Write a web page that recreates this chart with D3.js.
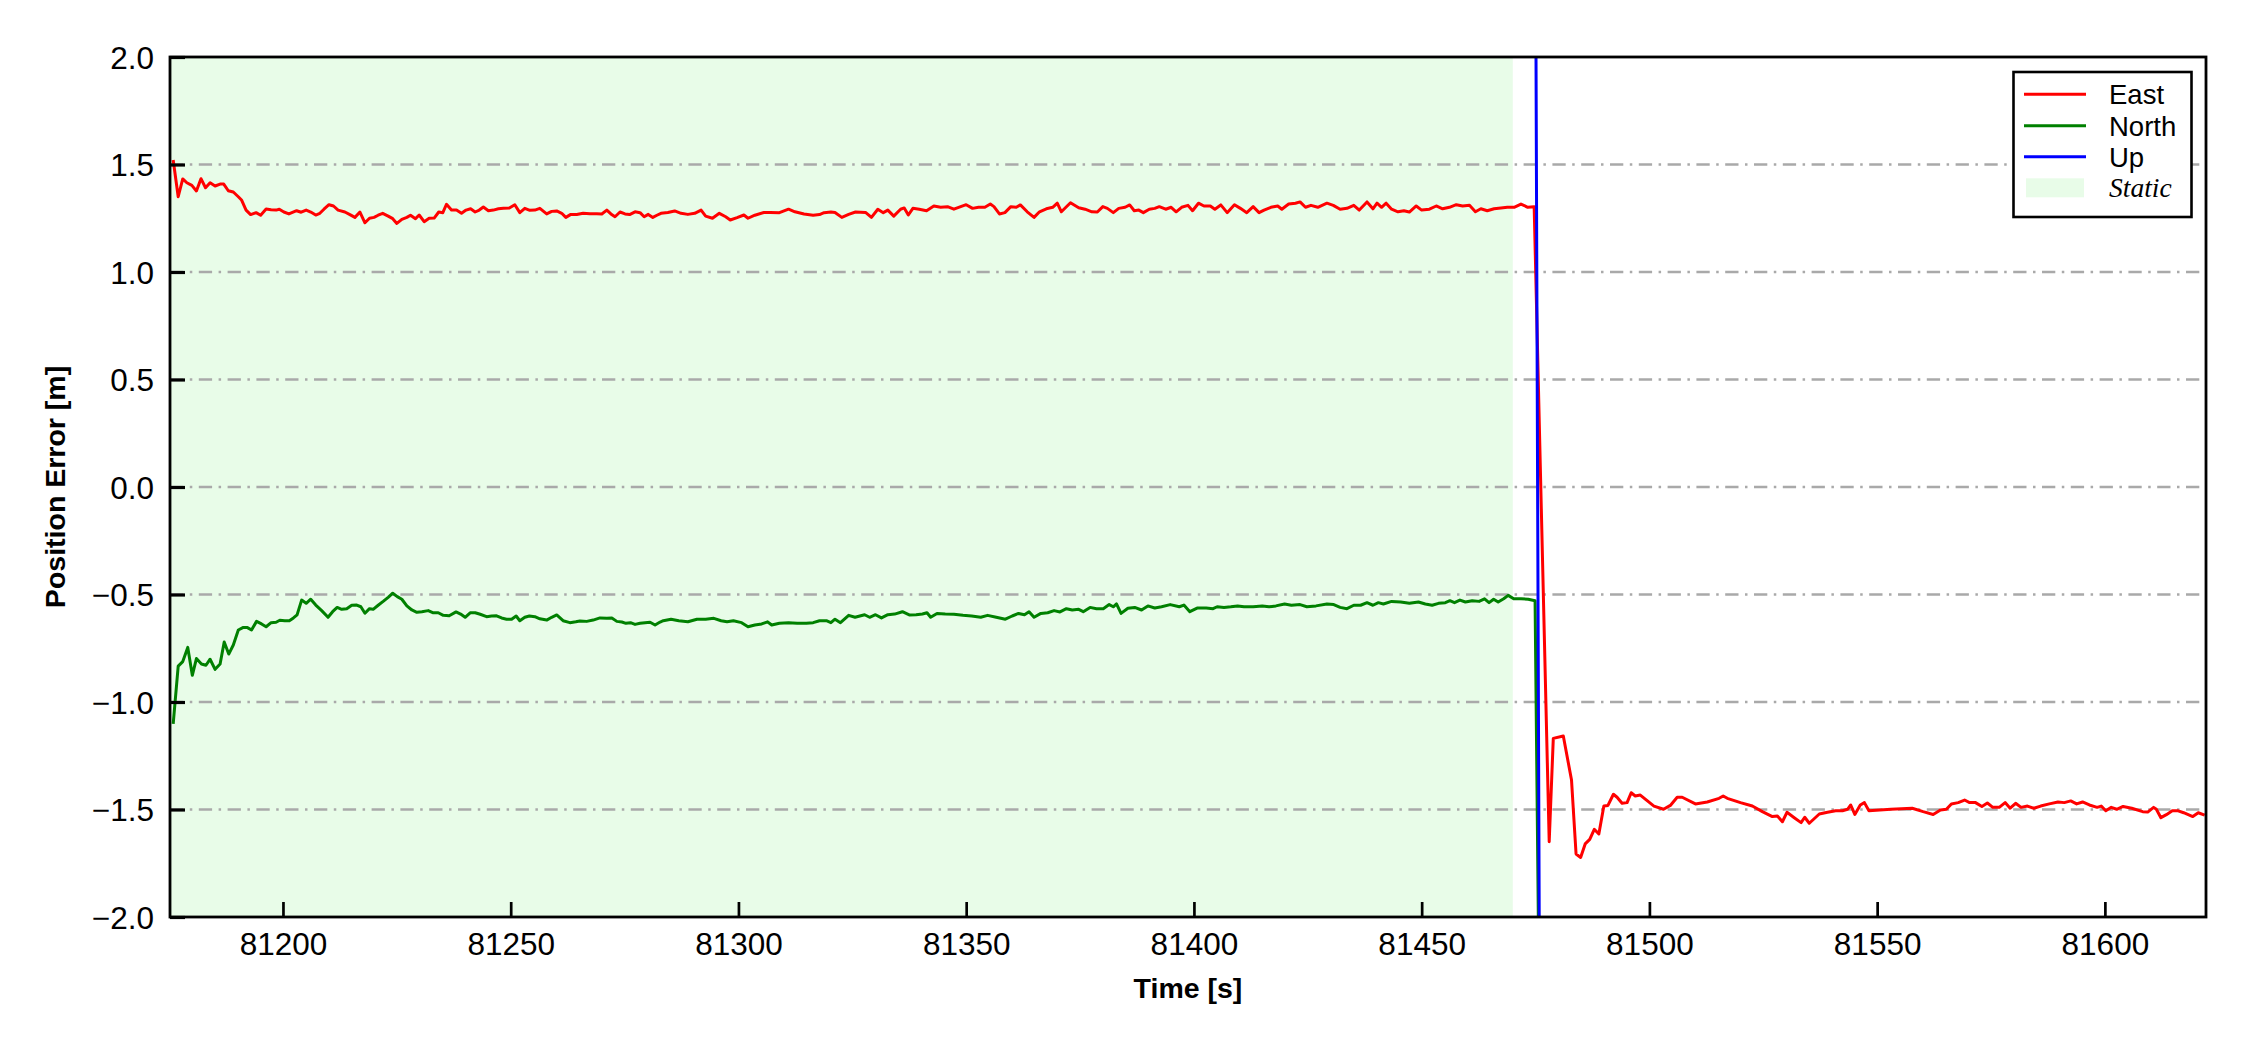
<!DOCTYPE html>
<html>
<head>
<meta charset="utf-8">
<script src="https://cdn.jsdelivr.net/npm/d3@7"></script>
<style>
  html, body { margin: 0; padding: 0; background: #ffffff; }
  svg { display: block; }
</style>
</head>
<body>
<svg id="chart" width="2250" height="1050"></svg>
<script>
// ---------------- data ----------------
const xTicks = [81200, 81250, 81300, 81350, 81400, 81450, 81500, 81550, 81600];
const yTicks = [-2.0, -1.5, -1.0, -0.5, 0.0, 0.5, 1.0, 1.5, 2.0];
const xDomain = [81175.2, 81622.2];
const yDomain = [-2, 2];
const staticSpan = [81175.2, 81470];
const seriesNames = ["East", "North", "Up"];
const seriesColors = ["#ff0000", "#008000", "#0000ff"];
const staticLabel = "Static";
const xTitle = "Time [s]";
const yTitle = "Position Error [m]";

const eastT = [
81175.9,81177.0,81178.0,81178.9,81180.0,81181.0,81182.0,81183.0,81184.0,81185.1,81186.2,81187.0,81188.0,81189.1,81190.2,81190.9,
81191.9,81192.9,81194.1,81195.1,81196.3,81197.4,81198.5,81199.2,81200.2,81201.3,81203.0,81204.0,81205.1,81206.1,81207.2,81208.1,
81209.0,81210.1,81211.1,81212.1,81213.6,81214.7,81215.8,81216.9,81218.0,81219.0,81220.0,81220.9,81221.9,81223.1,81224.1,81225.0,
81226.1,81227.2,81228.0,81229.1,81229.9,81231.0,81232.1,81233.2,81234.2,81235.1,81235.9,81237.0,81238.1,81239.2,81240.2,81241.2,
81242.2,81243.1,81244.0,81245.1,81246.2,81247.3,81248.4,81249.7,81250.9,81252.0,81253.1,81254.2,81255.3,81256.4,81257.9,81259.0,
81260.1,81261.2,81262.1,81263.2,81264.5,81265.9,81267.4,81268.9,81270.0,81271.1,81272.0,81272.9,81274.0,81275.1,81276.1,81277.3,
81278.4,81279.3,81280.2,81281.2,81282.1,
81283.0,81284.5,81286.0,81287.4,81288.9,81290.4,81291.8,81292.8,81294.3,81295.8,81297.2,81298.2,81299.7,81301.2,81302.1,81303.6,
81305.6,81307.0,81309.0,81311.0,81312.4,81314.4,81316.4,81317.8,81318.8,81320.3,81321.2,81322.7,81324.2,81325.7,
81327.9,81329.2,81330.6,81331.8,81332.8,81334.1,81335.6,81336.4,81337.3,81338.3,81339.7,81341.3,81342.9,81344.4,81345.9,81347.3,
81348.8,81350.0,81351.4,81352.7,81354.1,81355.3,81356.1,81357.3,81358.5,81359.8,81361.0,81361.9,81363.4,81364.9,81366.1,81367.6,
81369.0,81370.0,81370.9,81372.9,81374.7,81376.1,81377.6,81378.8,81380.0,81381.0,81382.3,81383.5,81384.9,81385.9,81386.9,81387.9,
81388.9,81390.2,81391.4,81392.4,81393.8,81395.0,81396.1,81397.3,81398.7,81399.7,81401.0,81402.2,81403.6,81404.6,81405.9,81407.3,
81408.9,81410.2,81411.6,81413.0,81414.3,81415.4,81416.9,81418.4,81419.3,81420.8,81422.3,81423.3,81424.5,81425.7,81427.2,81429.2,
81430.6,81432.1,81433.6,81435.1,81436.3,81438.0,81439.3,81440.2,81441.2,81442.2,81443.4,81444.8,81446.1,81447.3,81448.8,81450.0,
81451.7,81453.2,81454.6,81456.1,81457.6,81459.0,81460.5,81461.8,81463.0,81464.4,81465.9,81467.4,81468.8,81470.3,81471.8,81473.3,
81474.7,
81478.0,81478.9,81481.1,81482.9,81483.9,81484.9,81485.9,81486.9,81487.9,81488.9,81490.0,81490.9,81492.1,81492.9,81494.0,81495.1,
81496.0,81496.9,81498.0,81499.5,81501.0,81503.1,81504.6,81506.1,81507.2,81510.1,81512.7,81515.3,81516.2,81517.1,81520.0,81522.6,
81524.8,81527.0,81528.1,81529.2,81530.2,81531.8,81533.3,81534.1,81535.1,81537.3,81539.1,81540.9,81542.4,81543.5,81544.2,81545.1,
81546.3,81547.2,81548.2,81553.0,81557.7,81560.1,81562.3,81563.9,81565.2,81566.3,81567.8,81569.2,81570.3,81571.6,81573.0,81574.2,
81575.4,81576.8,81578.1,81579.2,81580.4,81581.6,81583.0,81584.4,81585.9,81587.8,81589.7,81591.1,81592.5,81593.8,81595.1,81596.6,
81598.3,81599.2,81600.2,81601.4,81602.6,81604.0,81605.9,81608.3,81609.4,81610.7,81611.3,81612.3,81613.5,81614.8,81616.1,81617.3,
81619.3,81620.5,81621.9
];
const eastV = [
1.521,1.350,1.433,1.415,1.403,1.377,1.434,1.392,1.415,1.400,1.409,1.409,1.378,1.372,1.350,1.335,
1.288,1.267,1.276,1.264,1.293,1.290,1.288,1.292,1.279,1.270,1.285,1.278,1.288,1.279,1.265,1.273,
1.292,1.313,1.307,1.288,1.279,1.267,1.254,1.279,1.229,1.250,1.254,1.264,1.273,1.260,1.248,1.226,
1.245,1.254,1.264,1.248,1.265,1.234,1.250,1.251,1.279,1.276,1.315,1.288,1.288,1.273,1.288,1.294,
1.279,1.288,1.302,1.285,1.288,1.294,1.296,1.298,1.313,1.276,1.296,1.287,1.288,1.296,1.270,1.282,
1.284,1.273,1.254,1.268,1.267,1.273,1.271,1.271,1.270,1.288,1.270,1.257,1.279,1.270,1.267,1.280,
1.276,1.257,1.268,1.254,1.264,
1.273,1.277,1.284,1.273,1.268,1.273,1.288,1.260,1.250,1.273,1.257,1.242,1.253,1.265,1.250,1.264,
1.277,1.277,1.276,1.292,1.280,1.270,1.264,1.267,1.276,1.279,1.277,1.254,1.268,1.279,
1.277,1.254,1.292,1.276,1.288,1.260,1.292,1.298,1.265,1.296,1.292,1.285,1.307,1.301,1.304,1.292,
1.304,1.313,1.296,1.301,1.301,1.316,1.304,1.270,1.276,1.304,1.301,1.312,1.280,1.254,1.280,1.294,
1.301,1.320,1.280,1.322,1.299,1.292,1.280,1.279,1.304,1.296,1.276,1.296,1.301,1.312,1.285,1.288,
1.276,1.292,1.296,1.304,1.292,1.301,1.280,1.301,1.310,1.285,1.320,1.307,1.307,1.292,1.312,1.276,
1.313,1.296,1.276,1.304,1.276,1.288,1.301,1.307,1.292,1.316,1.320,1.326,1.301,1.310,1.301,1.320,
1.310,1.292,1.296,1.310,1.288,1.326,1.294,1.320,1.301,1.320,1.292,1.280,1.285,1.279,1.307,1.288,
1.292,1.307,1.294,1.301,1.313,1.307,1.310,1.280,1.294,1.285,1.294,1.298,1.301,1.301,1.316,1.301,
1.304,
-1.650,-1.169,-1.158,-1.363,-1.707,-1.723,-1.660,-1.639,-1.592,-1.614,-1.484,-1.481,-1.429,-1.443,-1.471,-1.468,
-1.422,-1.437,-1.433,-1.459,-1.484,-1.499,-1.481,-1.443,-1.443,-1.474,-1.465,-1.448,-1.437,-1.448,-1.468,-1.484,
-1.510,-1.533,-1.530,-1.557,-1.513,-1.538,-1.561,-1.536,-1.564,-1.521,-1.513,-1.506,-1.506,-1.499,-1.479,-1.523,
-1.479,-1.468,-1.506,-1.499,-1.494,-1.510,-1.523,-1.502,-1.499,-1.474,-1.468,-1.456,-1.468,-1.468,-1.486,-1.470,
-1.490,-1.490,-1.468,-1.494,-1.471,-1.490,-1.484,-1.494,-1.484,-1.474,-1.465,-1.468,-1.460,-1.474,-1.465,-1.479,
-1.490,-1.484,-1.506,-1.490,-1.499,-1.486,-1.494,-1.510,-1.512,-1.490,-1.499,-1.538,-1.524,-1.506,-1.506,-1.515,
-1.533,-1.515,-1.526
];

const northT = [
81175.9,81177.0,81178.0,81179.1,81180.1,81181.0,81182.1,81183.1,81184.0,81185.1,81186.2,81187.1,81188.1,81189.1,81190.2,81191.3,
81192.2,81193.1,81194.2,81195.3,81196.3,81197.4,81198.5,81199.3,81200.4,81201.4,81202.3,81203.1,81204.1,81205.1,81206.1,81207.2,
81208.5,81209.9,81210.9,81211.9,81212.9,81214.0,81215.1,81216.2,81217.1,81218.0,81219.0,81219.8,81220.9,81222.0,81223.1,81224.1,
81225.1,81226.1,81227.2,81228.3,81229.4,81230.5,81231.9,81233.0,81234.1,81235.2,81236.5,81238.0,81239.0,81240.0,81241.1,81242.2,
81243.3,81244.7,81245.8,81246.9,81248.0,81249.1,81250.2,81251.2,81252.0,81253.1,81254.1,81255.3,81256.4,81257.9,81259.0,81260.1,
81261.5,81263.0,81264.3,81265.2,81266.7,81268.1,81269.6,81271.1,81272.2,81273.3,81274.4,81275.3,81276.3,81277.3,81278.4,81279.5,
81280.6,81281.7,81282.8,
81283.5,81285.2,81286.9,81288.9,81290.9,81292.8,81294.6,81296.2,81297.5,81298.9,81300.7,81302.1,81303.6,81305.1,81306.4,81307.3,
81309.0,81311.0,81312.9,81314.9,81316.4,81317.8,81319.3,81320.3,81321.2,81322.4,81324.2,81325.6,
81327.7,81328.8,81330.1,81331.4,81332.8,81334.3,81336.0,81337.5,81339.0,81340.4,81341.4,81342.2,81343.6,81345.4,81347.3,81349.3,
81351.2,81353.2,81354.7,81356.6,81358.6,81360.1,81361.5,81362.8,81363.8,81364.9,81366.4,81367.9,81369.3,81370.6,81372.0,81373.3,
81374.7,81375.7,81377.2,81378.6,81380.1,81381.4,81382.3,81383.0,81384.0,81385.5,81387.0,81388.5,81389.9,81391.4,81392.9,81394.8,
81396.8,81397.8,81399.1,81400.7,81402.7,81404.2,81405.1,81406.6,81408.1,81409.6,81411.0,81413.0,81415.0,81416.5,81418.0,81419.9,
81421.4,81423.3,81424.8,81426.8,81429.2,81430.7,81432.1,81433.6,81435.1,81436.6,81438.0,81439.3,81440.5,81441.6,81443.4,81445.4,
81447.3,81449.3,81450.8,81452.3,81453.7,81455.2,81456.2,81457.2,81458.4,81459.6,81461.1,81462.6,81463.8,81464.8,81465.8,81466.8,
81468.0,81469.0,81470.2,81471.8,81473.4,81474.9,
81476.0,81480.0,81520.0,81570.0,81622.0
];
const northV = [
-1.102,-0.833,-0.812,-0.746,-0.876,-0.798,-0.823,-0.829,-0.801,-0.848,-0.823,-0.721,-0.777,-0.735,-0.665,-0.653,
-0.654,-0.665,-0.625,-0.637,-0.650,-0.631,-0.629,-0.620,-0.622,-0.622,-0.609,-0.595,-0.526,-0.541,-0.522,-0.549,
-0.575,-0.606,-0.580,-0.560,-0.569,-0.566,-0.550,-0.549,-0.557,-0.587,-0.566,-0.569,-0.550,-0.532,-0.513,-0.494,
-0.510,-0.522,-0.553,-0.572,-0.583,-0.580,-0.575,-0.585,-0.585,-0.597,-0.599,-0.581,-0.591,-0.606,-0.585,-0.585,
-0.592,-0.603,-0.600,-0.599,-0.609,-0.615,-0.615,-0.600,-0.622,-0.606,-0.600,-0.603,-0.613,-0.619,-0.606,-0.595,
-0.622,-0.631,-0.627,-0.623,-0.625,-0.619,-0.609,-0.611,-0.609,-0.625,-0.628,-0.634,-0.631,-0.639,-0.634,-0.631,
-0.629,-0.642,-0.628,
-0.622,-0.615,-0.622,-0.627,-0.615,-0.615,-0.611,-0.622,-0.627,-0.622,-0.631,-0.650,-0.642,-0.637,-0.627,-0.642,
-0.634,-0.631,-0.634,-0.634,-0.631,-0.622,-0.622,-0.631,-0.615,-0.631,-0.597,-0.606,
-0.594,-0.606,-0.594,-0.609,-0.594,-0.591,-0.580,-0.595,-0.594,-0.591,-0.585,-0.606,-0.588,-0.591,-0.592,-0.597,
-0.600,-0.606,-0.597,-0.606,-0.615,-0.600,-0.588,-0.594,-0.580,-0.606,-0.588,-0.585,-0.575,-0.581,-0.566,-0.572,
-0.569,-0.580,-0.560,-0.566,-0.566,-0.547,-0.557,-0.544,-0.588,-0.564,-0.560,-0.572,-0.553,-0.563,-0.557,-0.547,
-0.557,-0.549,-0.580,-0.563,-0.563,-0.566,-0.557,-0.560,-0.557,-0.553,-0.557,-0.557,-0.553,-0.557,-0.553,-0.544,
-0.550,-0.547,-0.557,-0.553,-0.544,-0.547,-0.560,-0.566,-0.550,-0.550,-0.538,-0.550,-0.538,-0.544,-0.532,-0.535,
-0.541,-0.535,-0.544,-0.550,-0.541,-0.538,-0.529,-0.538,-0.526,-0.535,-0.529,-0.532,-0.520,-0.538,-0.522,-0.535,
-0.520,-0.504,-0.520,-0.520,-0.522,-0.529,
-2.8,-2.9,-2.8,-2.85,-2.8
];

// Up stays outside the [-2, 2] window except for the jump
const upT = [81175.5, 81300.0, 81475.0, 81476.0, 81550.0, 81622.0];
const upV = [2.9, 2.7, 2.6, -3.1, -3.3, -3.2];

// ---------------- layout ----------------
const W = 2250, H = 1050;
const plot = { left: 170, right: 2206, top: 57, bottom: 917 };

const svg = d3.select("#chart");
const x = d3.scaleLinear().domain(xDomain).range([plot.left, plot.right]);
const y = d3.scaleLinear().domain(yDomain).range([plot.bottom, plot.top]);

const FONT = "'Liberation Sans', Arial, Helvetica, sans-serif";

svg.append("defs").append("clipPath").attr("id", "plotclip")
  .append("rect")
  .attr("x", plot.left).attr("y", plot.top)
  .attr("width", plot.right - plot.left).attr("height", plot.bottom - plot.top);

// static span
svg.append("rect")
  .attr("x", x(staticSpan[0])).attr("y", plot.top)
  .attr("width", x(staticSpan[1]) - x(staticSpan[0]))
  .attr("height", plot.bottom - plot.top)
  .attr("fill", "#e8fce8");

// grid (horizontal dash-dot)
svg.append("g").selectAll("line")
  .data(yTicks.filter(v => v > yDomain[0] && v < yDomain[1]))
  .join("line")
  .attr("x1", plot.left).attr("x2", plot.right)
  .attr("y1", d => y(d)).attr("y2", d => y(d))
  .attr("stroke", "#a9a9a9")
  .attr("stroke-width", 2.4)
  .attr("stroke-dasharray", "13.3,6.5,2.5,6.5");

// lines
const lineGen = d3.line().x(d => x(d[0])).y(d => y(d[1]));
const seriesData = [
  d3.zip(eastT, eastV),
  d3.zip(northT, northV),
  d3.zip(upT, upV)
];
const lines = svg.append("g").attr("clip-path", "url(#plotclip)");
seriesData.forEach((data, i) => {
  lines.append("path")
    .attr("d", lineGen(data))
    .attr("fill", "none")
    .attr("stroke", seriesColors[i])
    .attr("stroke-width", 3)
    .attr("stroke-linejoin", "round");
});

// axes
const yAxis = d3.axisLeft(y).tickValues(yTicks)
  .tickFormat(d3.format(".1f"))
  .tickSizeInner(-15).tickSizeOuter(0).tickPadding(16);
const gy = svg.append("g").attr("transform", `translate(${plot.left},0)`).call(yAxis);
gy.select(".domain").remove();
gy.selectAll(".tick line").attr("stroke", "#000").attr("stroke-width", 3.2);
gy.selectAll(".tick text").attr("font-family", FONT).attr("font-size", 31.5).attr("fill", "#000").attr("dy", "0.36em");

const xAxis = d3.axisBottom(x).tickValues(xTicks)
  .tickFormat(d3.format("d"))
  .tickSizeInner(-15).tickSizeOuter(0).tickPadding(15.5);
const gx = svg.append("g").attr("transform", `translate(0,${plot.bottom})`).call(xAxis);
gx.select(".domain").remove();
gx.selectAll(".tick line").attr("stroke", "#000").attr("stroke-width", 2.7);
gx.selectAll(".tick text").attr("font-family", FONT).attr("font-size", 31.5).attr("fill", "#000");

// frame
svg.append("rect")
  .attr("x", plot.left).attr("y", plot.top)
  .attr("width", plot.right - plot.left).attr("height", plot.bottom - plot.top)
  .attr("fill", "none").attr("stroke", "#000").attr("stroke-width", 2.8);

// axis titles
svg.append("text")
  .attr("x", (plot.left + plot.right) / 2).attr("y", 998)
  .attr("text-anchor", "middle")
  .attr("font-family", FONT).attr("font-weight", "bold").attr("font-size", 28.5)
  .text(xTitle);
svg.append("text")
  .attr("transform", `translate(65,${(plot.top + plot.bottom) / 2}) rotate(-90)`)
  .attr("text-anchor", "middle")
  .attr("font-family", FONT).attr("font-weight", "bold").attr("font-size", 28.5)
  .text(yTitle);

// legend
const lg = svg.append("g");
lg.append("rect")
  .attr("x", 2013.5).attr("y", 72).attr("width", 178).attr("height", 145)
  .attr("fill", "#fff").attr("stroke", "#000").attr("stroke-width", 2.6);
const rowY = [94.3, 125.8, 156.8, 187.8];
seriesNames.forEach((name, i) => {
  lg.append("line")
    .attr("x1", 2024).attr("x2", 2086)
    .attr("y1", rowY[i]).attr("y2", rowY[i])
    .attr("stroke", seriesColors[i]).attr("stroke-width", 3);
  lg.append("text")
    .attr("x", 2109).attr("y", rowY[i]).attr("dy", "0.36em")
    .attr("font-family", FONT).attr("font-size", 27.5).attr("fill", "#000")
    .text(name);
});
lg.append("rect")
  .attr("x", 2026).attr("y", rowY[3] - 9.5).attr("width", 58).attr("height", 19)
  .attr("fill", "#e8fce8");
lg.append("text")
  .attr("x", 2109).attr("y", rowY[3]).attr("dy", "0.33em")
  .attr("font-family", "'Liberation Serif', 'Times New Roman', serif")
  .attr("font-style", "italic").attr("font-size", 27.5).attr("fill", "#000")
  .text(staticLabel);
</script>
</body>
</html>
